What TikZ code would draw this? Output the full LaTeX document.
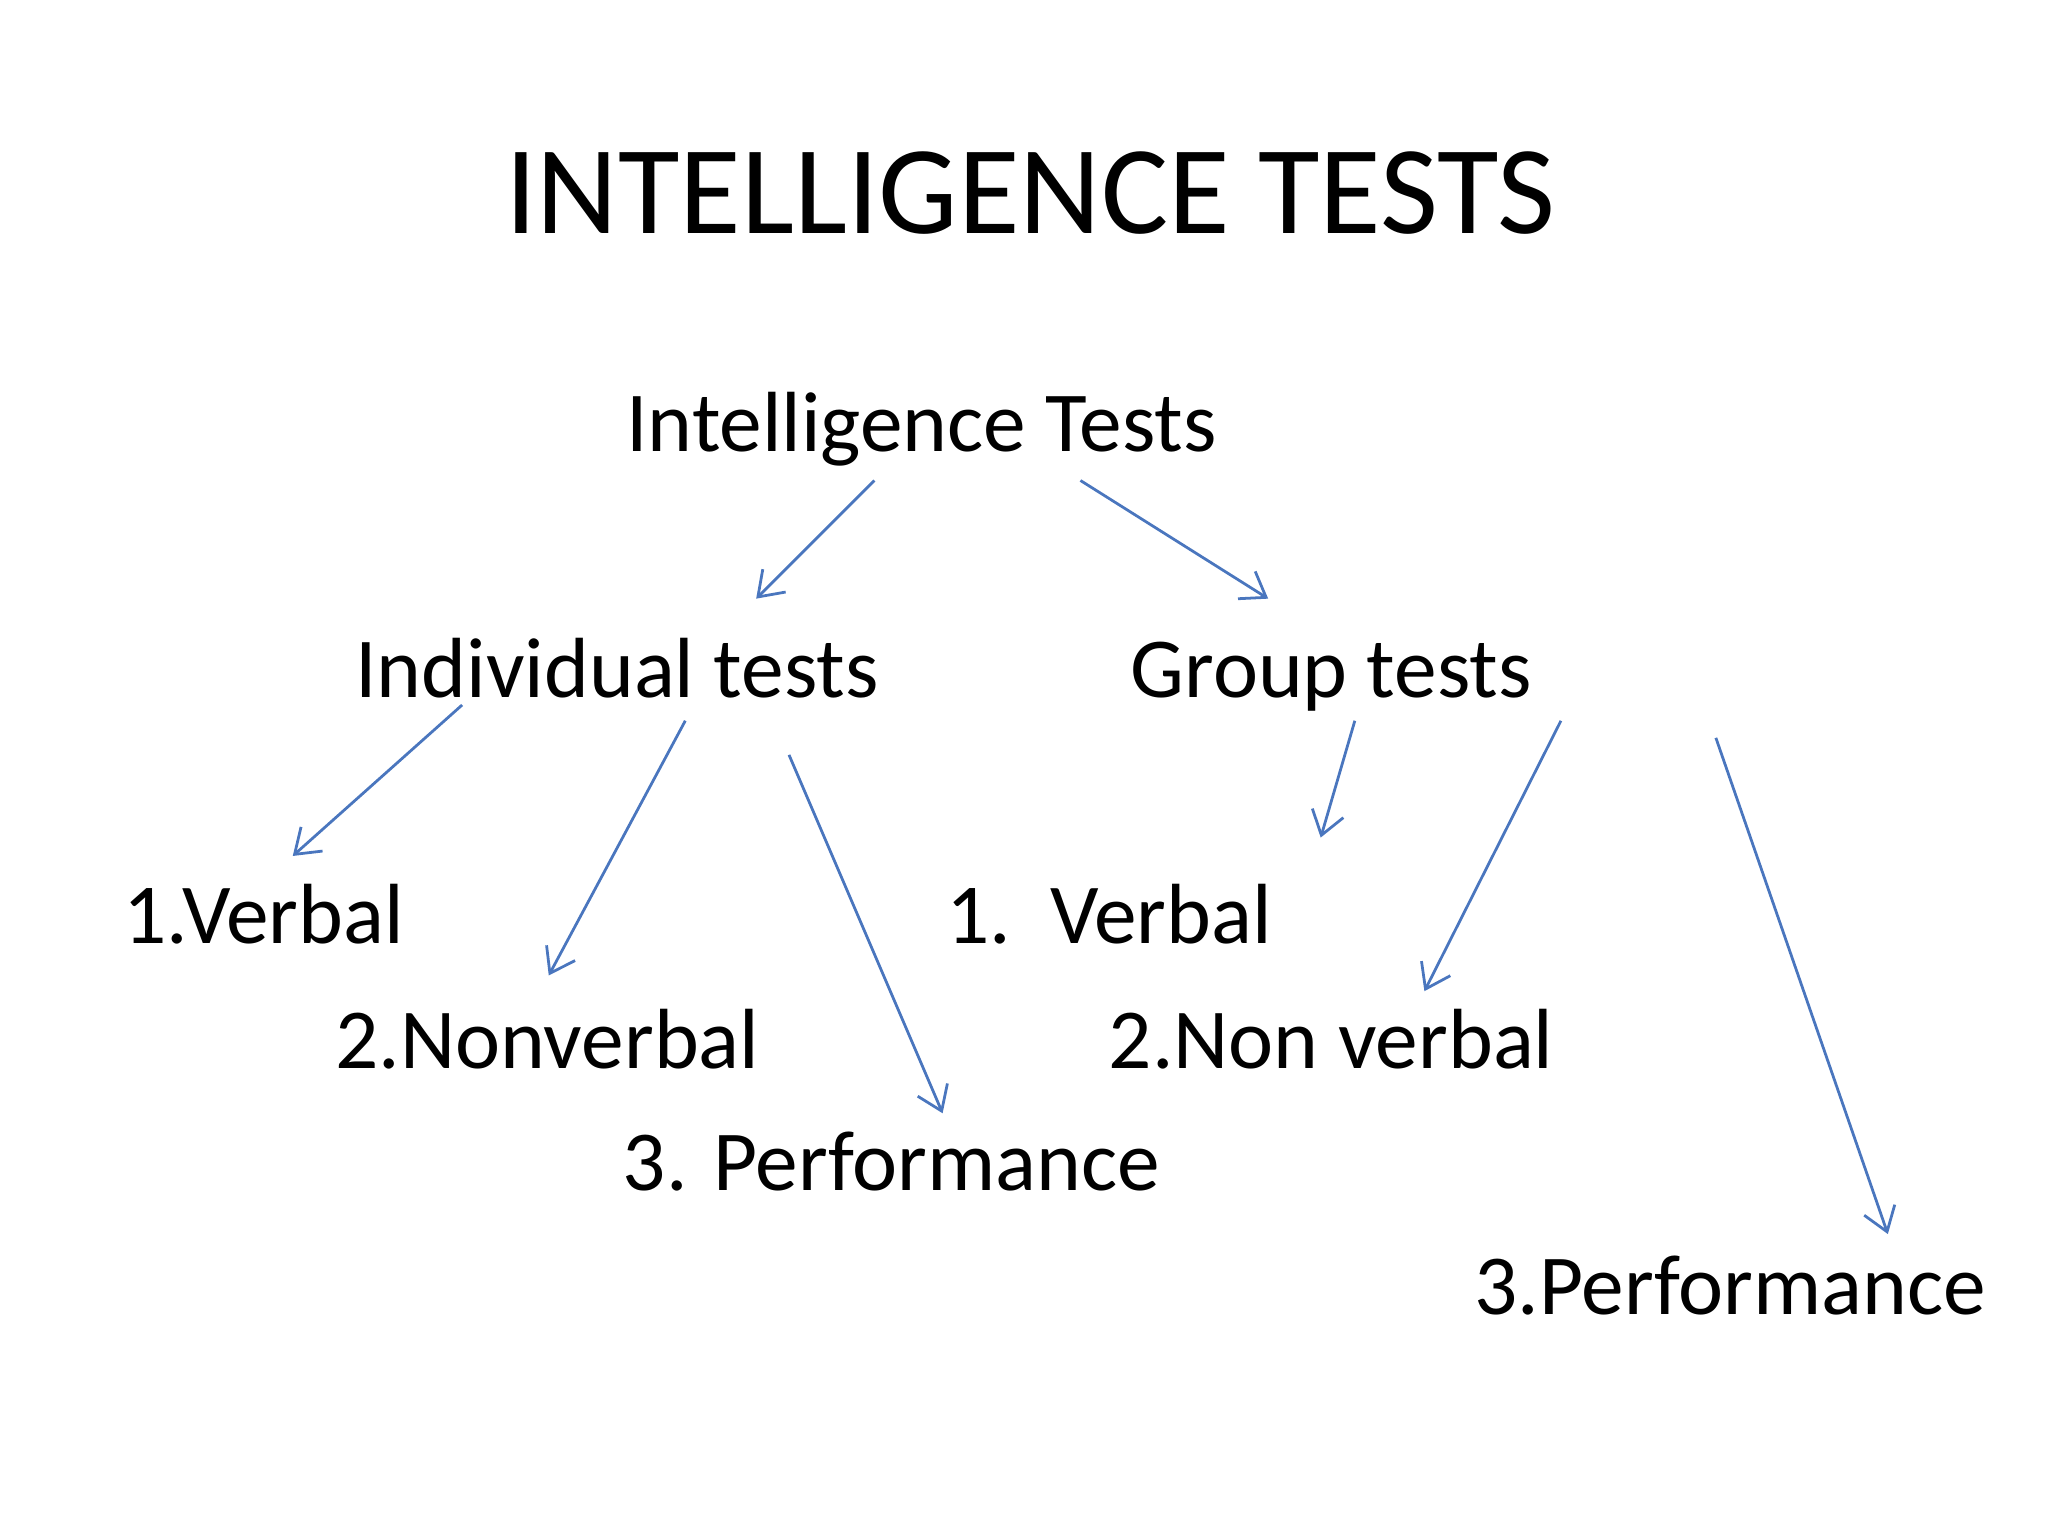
\documentclass[tikz,border=0pt]{standalone}
\usepackage{fontspec}
\setmainfont{Carlito}
\usetikzlibrary{arrows.meta}
\begin{document}
\begin{tikzpicture}[x=0.01cm,y=-0.01cm,
  lbl/.style={inner sep=0pt,anchor=base,font=\fontsize{18.5pt}{22pt}\selectfont},
  arr/.style={draw={rgb,255:red,74;green,118;blue,190},line width=0.6pt,-{Straight Barb[length=5pt,width=7pt]}}]
\useasboundingbox (0,0) rectangle (1560,1170);
\node[inner sep=0pt,anchor=base,font=\fontsize{27.3pt}{32pt}\selectfont] (title) at (785,178) {INTELLIGENCE TESTS};
\node[lbl] (it) at (702,344) {Intelligence Tests};
\node[lbl] (ind) at (470,531) {Individual tests};
\node[lbl] (grp) at (1014,531) {Group tests};
\node[lbl] (v1) at (201,719) {1.Verbal};
\node[lbl] (n1) at (417,814) {2.Nonverbal};
\node[lbl] (p1) at (679,907) {3. Performance};
\node[lbl] (v2) at (845,719) {1.\ \ Verbal};
\node[lbl] (n2) at (1014,814) {2.Non verbal};
\node[lbl] (p2) at (1318,1001) {3.Performance};
\coordinate (a1) at (666,366); \coordinate (b1) at (576,456);
\coordinate (a2) at (823,366); \coordinate (b2) at (966,456);
\coordinate (a3) at (352,537); \coordinate (b3) at (223,652);
\coordinate (a4) at (522,549); \coordinate (b4) at (418,743);
\coordinate (a5) at (601,575); \coordinate (b5) at (718,848);
\coordinate (a6) at (1032,549); \coordinate (b6) at (1006,638);
\coordinate (a7) at (1189,549); \coordinate (b7) at (1085,755);
\coordinate (a8) at (1307,562); \coordinate (b8) at (1438,940);
\foreach \i in {1,...,8} \draw[arr] (a\i) -- (b\i);
\end{tikzpicture}
\end{document}
